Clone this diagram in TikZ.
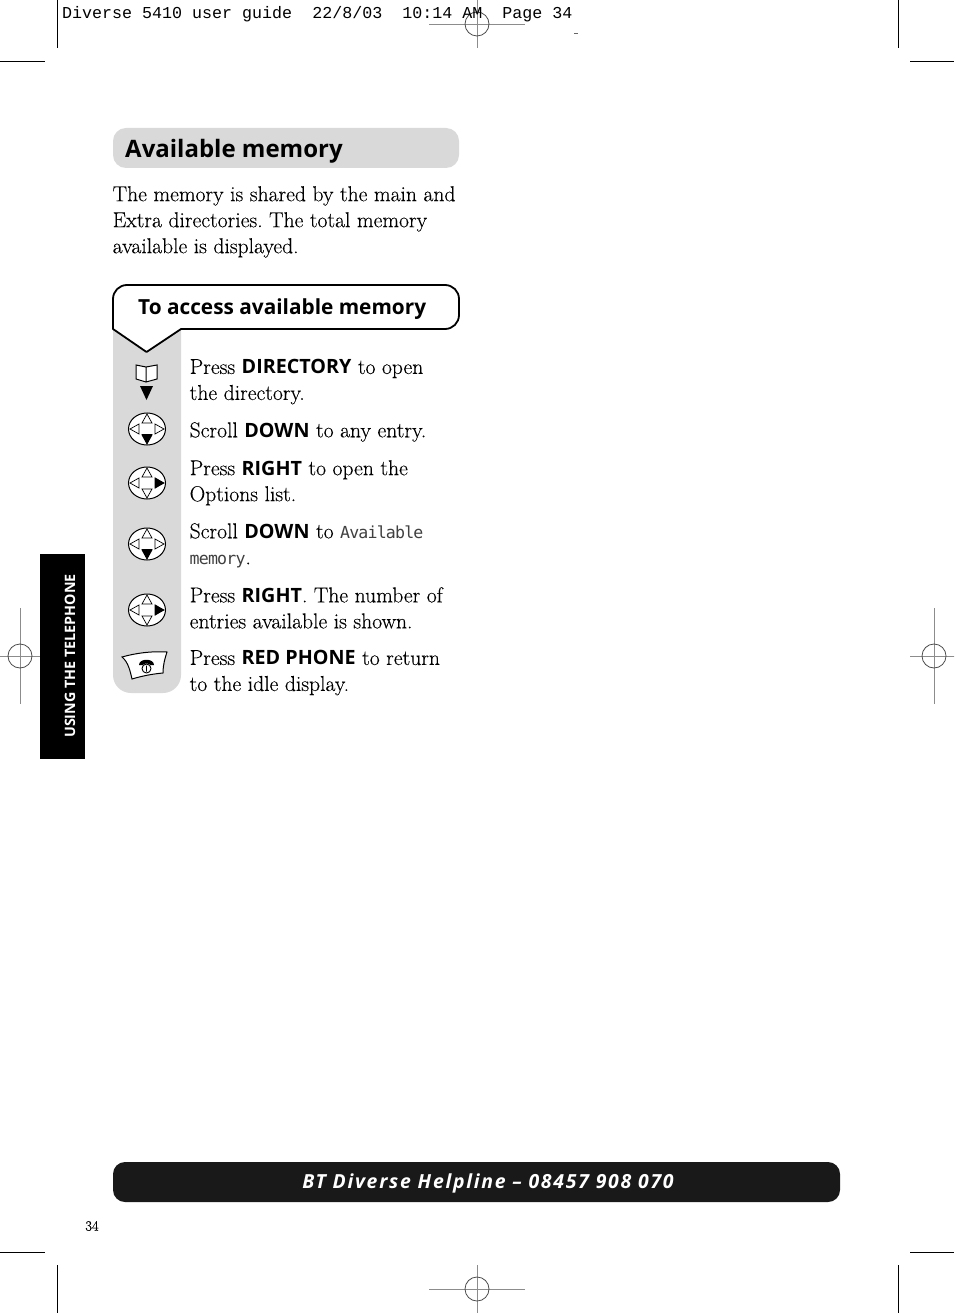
\documentclass[tikz,border=0pt]{standalone}
\usepackage{fontspec}
\setmainfont[FakeBold=0.2]{Latin Modern Roman}
\newfontfamily\labelsf{Open Sans}
\newfontfamily\headsf{Open Sans}
\newfontfamily\footsf[LetterSpace=9]{Open Sans}
\newfontfamily\slugtt{Liberation Mono}
\newfontfamily\lcdtt[LetterSpace=-5]{DejaVu Sans Mono}
\newcommand{\keyw}[1]{{\labelsf\fontsize{19.7}{26}\selectfont\textbf{#1}}}
\newcommand{\lcd}[1]{{\lcdtt\fontsize{16.6}{26}\selectfont\color{black!75}#1}}
\definecolor{panelgrey}{HTML}{D9D9D9}
\definecolor{markgrey}{HTML}{8C8C8C}
\tikzset{
  steptext/.style={anchor=north west,align=left,inner sep=0pt,font=\fontsize{21.6}{26}\selectfont\frenchspacing},
  crop/.style={line width=0.8pt,black},
  regmark/.style={line width=0.8pt,markgrey},
  keyline/.style={line width=1pt,black},
  arrowline/.style={line width=0.7pt,fill=white},
}
% navigation key: centre x, centre y, filled arrow
\newcommand{\navkey}[3]{
  \begin{scope}[shift={(#1,#2)}]
    \draw[keyline,fill=white] (0,0) ellipse (18.5 and 16);
    \draw[arrowline] (0,-15)--(-5,-6)--(5,-6)--cycle;
    \draw[arrowline] (0,15)--(-5,6)--(5,6)--cycle;
    \draw[arrowline] (-17,0)--(-8,-5)--(-8,5)--cycle;
    \draw[arrowline] (17,0)--(8,-5)--(8,5)--cycle;
    \fill #3;
  \end{scope}
}
% registration mark: centre x, centre y, horizontal arm, vertical arm
\newcommand{\regcross}[4]{
  \draw[regmark] (#1-#3,#2)--(#1+#3,#2) (#1,#2-#4)--(#1,#2+#4);
  \draw[line width=0.8pt,black!70] (#1,#2) circle (12);
}
\begin{document}
\begin{tikzpicture}[x=1pt,y=-1pt]
\useasboundingbox (0,0) rectangle (954,1313);
\fill[white] (0,0) rectangle (954,1313);
% crop marks
\draw[crop] (57,0)--(57,48) (0,61)--(45,61) (898,0)--(898,48) (910,61)--(954,61);
\draw[crop] (0,1252)--(45,1252) (57,1265)--(57,1313) (910,1252)--(954,1252) (898,1265)--(898,1313);
\regcross{477}{24}{48}{24}
\regcross{477}{1289}{48}{24}
\begin{scope}
  \clip (0,0) rectangle (954,1313);
  \regcross{20}{656}{24}{48}
  \regcross{934}{656}{24}{48}
\end{scope}
\draw[line width=0.5pt,black!60] (574,33.5)--(578,33.5);
\node[anchor=west,inner sep=0pt,font=\slugtt\fontsize{16.67}{18}\selectfont] (slug) at (62,14) {Diverse 5410 user guide\ \ 22/8/03\ \ 10:14 AM\ \ Page 34};
% side tab
\fill[black] (39.5,554) rectangle (85,759);
\node[rotate=90,text=white,inner sep=0pt,font=\labelsf\bfseries\fontsize{14.3}{16}\selectfont] (tab) at (70,656) {USING THE TELEPHONE};
% heading
\fill[panelgrey,rounded corners=13] (113,128) rectangle (459,168);
\node[anchor=west,inner sep=0pt,font=\headsf\bfseries\fontsize{24}{30}\selectfont] (head) at (125,151) {Available memory};
\node[steptext] (intro) at (112.5,186) {The memory is shared by the main and\\Extra directories. The total memory\\available is displayed.};
% grey column and callout
\fill[panelgrey] (113,329) [rounded corners=18]--(113,693)--(181,693)[sharp corners]--(181,329)--cycle;
\draw[line width=1.8pt,fill=white,line join=round] (113,329) [rounded corners=14]--(113,285)--(459,285)--(459,329)--(200,329)[sharp corners]--(181,329)--(146.5,352)--cycle;
\node[anchor=west,inner sep=0pt,font=\headsf\bfseries\fontsize{20.8}{26}\selectfont] (sub) at (138,309) {To access available memory};
% book key
\draw[keyline,fill=white] (146,367)--(136,365)--(136,379)--(146,382)--(157,379)--(157,365)--cycle (146,367)--(146,382);
\fill (140,386)--(153,386)--(146.5,400)--cycle;
% scroll keys
\navkey{147}{429}{(-5.5,5)--(5.5,5)--(0,15)--cycle}
\navkey{147}{483}{(8,-5.5)--(8,5.5)--(17,0)--cycle}
\navkey{147}{544}{(-5.5,5)--(5.5,5)--(0,15)--cycle}
\navkey{147}{610}{(8,-5.5)--(8,5.5)--(17,0)--cycle}
% phone key
\draw[keyline,fill=white] (122,657) .. controls (128,662) and (130,670) .. (132,679) .. controls (142,676) and (152,674) .. (163,673) .. controls (163,665) and (165,658) .. (167,652) .. controls (152,651) and (136,653) .. (122,657) -- cycle;
\fill (139,665) .. controls (139,658) and (154,658) .. (154,665) -- (150,665) .. controls (150,663) and (143,663) .. (143,665) -- cycle;
\draw[line width=0.9pt] (146.5,668.5) circle (4.5) (146.5,665.5)--(146.5,671.5);
% steps
\node[steptext] (one) at (189.5,359) {Press \keyw{DIRECTORY} to open\\the directory.};
\node[steptext] (two) at (189.5,422) {Scroll \keyw{DOWN} to any entry.};
\node[steptext] (three) at (189.5,460) {Press \keyw{RIGHT} to open the\\Options list.};
\node[steptext] (four) at (189.5,523) {Scroll \keyw{DOWN} to \lcd{Available}\\\lcd{memory}.};
\node[steptext] (five) at (189.5,587) {Press \keyw{RIGHT}. The number of\\entries available is shown.};
\node[steptext] (six) at (189.5,650) {Press \keyw{RED PHONE} to return\\to the idle display.};
% footer
\fill[black!90,rounded corners=12] (113,1162) rectangle (840,1202);
\node[text=white,inner sep=0pt,font=\footsf\bfseries\itshape\fontsize{19.4}{24}\selectfont] (foot) at (488,1183) {BT Diverse Helpline – 08457 908 070};
\node[inner sep=0pt,font=\fontsize{14.5}{16}\selectfont] (page) at (92,1226) {34};
\end{tikzpicture}
\end{document}
